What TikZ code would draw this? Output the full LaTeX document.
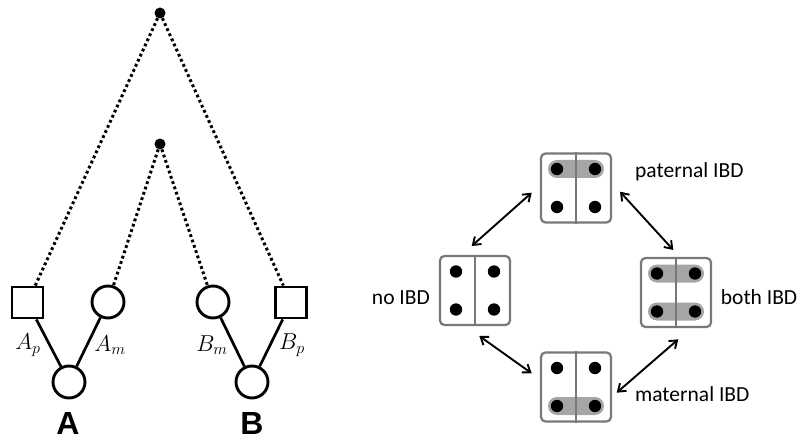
\RequirePackage{fix-cm}
\documentclass[tikz,border=0pt]{standalone}
\usepackage{fontspec}
\setsansfont{Carlito}
\newfontfamily\headfont{Liberation Sans}
\usetikzlibrary{arrows.meta,calc}
\definecolor{bordergray}{RGB}{120,120,120}
\definecolor{bandgray}{RGB}{165,165,165}
\newcommand\ibdcontent[3]{%
  \ifnum#2=1 \fill[bandgray,rounded corners=9pt] ($(#1)+(-28,-28)$) rectangle ($(#1)+(28,-10)$);\fi
  \ifnum#3=1 \fill[bandgray,rounded corners=9pt] ($(#1)+(-28,10)$) rectangle ($(#1)+(28,28)$);\fi
  \draw[bordergray,line width=2pt] (#1.north) -- (#1.south);
  \fill ($(#1)+(-19,-19)$) circle[radius=6.2pt];
  \fill ($(#1)+(19,-19)$) circle[radius=6.2pt];
  \fill ($(#1)+(-19,19)$) circle[radius=6.2pt];
  \fill ($(#1)+(19,19)$) circle[radius=6.2pt];
}
\begin{document}
\begin{tikzpicture}[x=1pt,y=-1pt,
  ped/.style={draw,line width=2.9pt,fill=white,inner sep=0pt},
  sq/.style={ped,rectangle,minimum size=31pt},
  circ/.style={ped,circle,minimum size=32pt},
  anc/.style={circle,fill=black,inner sep=0pt,minimum size=11pt},
  dotline/.style={line width=3pt,dash pattern=on 2.8pt off 2.8pt},
  link/.style={line width=2.7pt},
  mlab/.style={font=\fontsize{23}{27}\selectfont},
  big/.style={font=\headfont\bfseries\fontsize{32}{34}\selectfont},
  ibd/.style={draw=bordergray,line width=2.2pt,rounded corners=4.5pt,minimum width=70pt,minimum height=69pt,inner sep=0pt},
  tlab/.style={font=\sffamily\fontsize{21.5}{24}\selectfont,inner sep=0pt},
  dbl/.style={{Straight Barb[length=7pt,width=10pt,line width=1.9pt]}-{Straight Barb[length=7pt,width=10pt,line width=1.9pt]},line width=1.9pt}]
\useasboundingbox (0,0) rectangle (801,441);
% pedigree
\node[anc] (r1) at (160,13) {};
\node[anc] (r2) at (160,144) {};
\node[sq] (Ap) at (27.5,302.5) {};
\node[circ] (Am) at (108,302) {};
\node[circ] (Bm) at (213,302) {};
\node[sq] (Bp) at (291,302.5) {};
\node[circ] (A) at (69,382) {};
\node[circ] (B) at (252,382) {};
\draw[dotline] (r1) -- (Ap);
\draw[dotline] (r1) -- (Bp);
\draw[dotline] (r2) -- (Am);
\draw[dotline] (r2) -- (Bm);
\draw[link] (Ap) -- (A);
\draw[link] (Am) -- (A);
\draw[link] (Bm) -- (B);
\draw[link] (Bp) -- (B);
\node[mlab] (lAp) at (28,345) {$A_p$};
\node[mlab] (lAm) at (110,345) {$A_m$};
\node[mlab] (lBm) at (212,345) {$B_m$};
\node[mlab] (lBp) at (292,345) {$B_p$};
\node[big] (lA) at (68,423) {A};
\node[big] (lB) at (252,423) {B};
% IBD states
\node[ibd] (pat) at (576,188) {};
\node[ibd] (no) at (475,290.5) {};
\node[ibd] (both) at (676,292.5) {};
\node[ibd] (mat) at (576,387) {};
\ibdcontent{pat}{1}{0}
\ibdcontent{no}{0}{0}
\ibdcontent{both}{1}{1}
\ibdcontent{mat}{0}{1}
\node[tlab,anchor=base west] (lpat) at (635,177.3) {paternal IBD};
\node[tlab,anchor=base east] (lno) at (430,304.3) {no IBD};
\node[tlab,anchor=base west] (lboth) at (720.7,304.3) {both IBD};
\node[tlab,anchor=base west] (lmat) at (635,401.7) {maternal IBD};
\coordinate (a1s) at (531.7,192.7);
\coordinate (a1e) at (471.7,246);
\coordinate (a2s) at (620,191.7);
\coordinate (a2e) at (673.3,250);
\coordinate (a3s) at (479.3,336);
\coordinate (a3e) at (531.7,373.3);
\coordinate (a4s) at (616.7,392.7);
\coordinate (a4e) at (678.3,339.3);
\draw[dbl] (a1s) -- (a1e);
\draw[dbl] (a2s) -- (a2e);
\draw[dbl] (a3s) -- (a3e);
\draw[dbl] (a4s) -- (a4e);
\end{tikzpicture}
\end{document}
